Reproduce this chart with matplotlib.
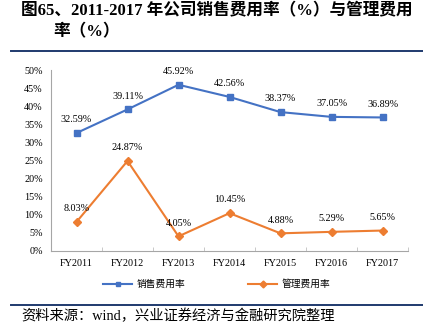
import matplotlib.pyplot as plt
from matplotlib.lines import Line2D

# data
years = ["FY2011", "FY2012", "FY2013", "FY2014", "FY2015", "FY2016", "FY2017"]
sales_rate = [32.59, 39.11, 45.92, 42.56, 38.37, 37.05, 36.89]
admin_rate = [8.03, 24.87, 4.05, 10.45, 4.88, 5.29, 5.65]
y_ticks = [0, 5, 10, 15, 20, 25, 30, 35, 40, 45, 50]

blue = "#4472C4"
orange = "#ED7D31"
navy = "#1F3A6E"
serif_cjk = ["Liberation Serif", "Noto Sans CJK SC"]

fig = plt.figure(figsize=(4.23, 3.36), dpi=100)
ax = fig.add_axes([51 / 423, 1 - 251 / 336, 357 / 423, 181 / 336])

x = list(range(len(years)))
ax.plot(x, sales_rate, color=blue, lw=1.5, marker="s", ms=4.5, label="销售费用率")
ax.plot(x, admin_rate, color=orange, lw=1.5, marker="D", ms=4.2, label="管理费用率")

for xi, v in zip(x, sales_rate):
    ax.annotate(f"{v:.2f}%", (xi, v), xytext=(0, 9.5), textcoords="offset points",
                ha="center", va="center", fontsize=7.3, family="Liberation Serif")
for xi, v in zip(x, admin_rate):
    ax.annotate(f"{v:.2f}%", (xi, v), xytext=(0, 9.5), textcoords="offset points",
                ha="center", va="center", fontsize=7.3, family="Liberation Serif")

ax.set_xlim(-0.5, len(years) - 0.5)
ax.set_ylim(0, 50)
ax.set_yticks(y_ticks)
ax.set_yticklabels([f"{t}%" for t in y_ticks], family="Liberation Serif", fontsize=7.3)
ax.set_xticks(x)
ax.set_xticklabels(years, family="Liberation Serif", fontsize=7.3)
ax.set_xticks([i + 0.5 for i in range(-1, len(years))], minor=True)
ax.tick_params(axis="x", which="major", length=0, pad=6)
ax.tick_params(axis="x", which="minor", direction="in", length=3, color="#BFBFBF")
ax.tick_params(axis="y", length=0, pad=6)

for side in ["top", "right"]:
    ax.spines[side].set_visible(False)
for side in ["left", "bottom"]:
    ax.spines[side].set_color("#A6A6A6")
    ax.spines[side].set_linewidth(0.8)

fig.legend(handles=[Line2D([], [], color=blue, lw=1.5, marker="s", ms=3.5),
                    Line2D([], [], color=orange, lw=1.5, marker="D", ms=3.5)],
           labels=["销售费用率", "管理费用率"], loc="center",
           bbox_to_anchor=(0.512, 1 - 284 / 336), ncol=2, frameon=False,
           prop={"family": "Noto Sans CJK SC", "size": 7},
           handlelength=3.0, handletextpad=0.4, columnspacing=6.5)

# title, rules and source note
fig.text(21 / 423, 1 - 11 / 336, "图65、2011-2017 年公司销售费用率（%）与管理费用",
         family=serif_cjk, fontsize=12, fontweight="bold", va="center", ha="left")
fig.text(53 / 423, 1 - 32 / 336, "率（%）",
         family=serif_cjk, fontsize=12, fontweight="bold", va="center", ha="left")
fig.add_artist(Line2D([11 / 423, 1.0], [1 - 51 / 336] * 2, color=navy, lw=1.4))
fig.add_artist(Line2D([11 / 423, 1.0], [1 - 305 / 336] * 2, color=navy, lw=1.4))
fig.text(21 / 423, 1 - 316 / 336, "资料来源：wind，兴业证券经济与金融研究院整理",
         family=serif_cjk, fontsize=10.3, va="center", ha="left")

fig.savefig("out.png", dpi=100)
